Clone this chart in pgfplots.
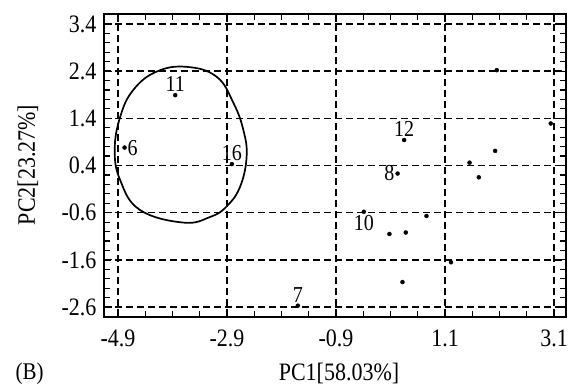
\documentclass[border=0pt]{standalone}
\usepackage{graphicx}
\usepackage{pgfplots}
\usepackage{pgfplotstable}
\pgfplotsset{compat=1.18}
\usepackage{fontspec}
\setmainfont{Liberation Serif}

% text in this figure is set slightly condensed (taller than wide)
\newcommand\tall[1]{\scalebox{1}[1.14]{#1}}

% Labelled samples, grouped by where the sample number sits
\pgfplotstableread{
x      y      lab
-3.85  1.89   11
-2.81  0.43   16
0.35   0.94   12
-1.60  -2.57  7
}\lababove
\pgfplotstableread{
x      y      lab
-4.78  0.78   6
}\labright
\pgfplotstableread{
x      y      lab
0.23   0.23   8
}\lableft
\pgfplotstableread{
x      y      lab
-0.39  -0.58  10
}\labbelow

% Remaining samples
\pgfplotstableread{
x      y
2.05   2.42
3.04   1.29
2.02   0.71
1.55   0.46
1.72   0.15
0.08   -1.05
0.38   -1.02
0.76   -0.67
1.21   -1.65
0.32   -2.07
}\others

\pgfplotsset{
  pcsample/.style={only marks, mark=*, mark size=2pt, black},
  pcnumbered/.style={pcsample, point meta=explicit symbolic,
    nodes near coords={\tall{\pgfplotspointmeta}},
    every node near coord/.append style={anchor=#1,
      font=\fontsize{20}{22}\selectfont, inner sep=3pt, text=black}},
}

\begin{document}
\begin{tikzpicture}
\useasboundingbox (-104pt,-67pt) rectangle (469pt,317pt);
\begin{axis}[
  at={(0pt,0pt)}, anchor=south west,
  scale only axis, width=462pt, height=303pt,
  xmin=-5.157, xmax=3.32, ymin=-2.81, ymax=3.61,
  xtick={-4.9,-2.9,-0.9,1.1,3.1},
  xticklabels={\tall{-4.9},\tall{-2.9},\tall{-0.9},\tall{1.1},\tall{3.1}},
  ytick={-2.6,-1.6,-0.6,0.4,1.4,2.4,3.4},
  yticklabels={\tall{-2.6},\tall{-1.6},\tall{-0.6},\tall{0.4},\tall{1.4},\tall{2.4},\tall{3.4}},
  minor xtick={-4.4,-3.9,-3.4,-2.4,-1.9,-1.4,-0.4,0.1,0.6,1.6,2.1,2.6},
  minor ytick={-2.4,-2.2,-2.0,-1.8,-1.4,-1.2,-1.0,-0.8,-0.4,-0.2,0.0,0.2,
               0.6,0.8,1.0,1.2,1.6,1.8,2.0,2.2,2.6,2.8,3.0,3.2},
  tick align=inside,
  major tick length=8pt, minor tick length=6pt,
  tick style={black, line width=1.2pt, solid},
  axis line style={line width=2pt},
  xmajorgrids, ymajorgrids,
  major grid style={black, line width=1.3pt, dash pattern=on 7pt off 4pt},
  ticklabel style={font=\fontsize{22}{24}\selectfont},
  xticklabel style={yshift=-9pt},
  yticklabel style={xshift=-4pt},
]
% cluster outline
\addplot[black, line width=1.7pt, smooth cycle, tension=0.7] coordinates {
  (-3.64,2.49) (-3.09,2.28) (-2.78,1.72) (-2.60,1.15) (-2.54,0.59)
  (-2.66,-0.05) (-2.91,-0.47) (-3.21,-0.69) (-3.70,-0.81) (-4.50,-0.54)
  (-4.86,0.09) (-4.96,0.73) (-4.86,1.43) (-4.62,2.00) (-4.19,2.39)
};
\addplot[pcsample] table {\others};
\addplot[pcnumbered=south] table[meta=lab] {\lababove};
\addplot[pcnumbered=west]  table[meta=lab] {\labright};
\addplot[pcnumbered=east]  table[meta=lab] {\lableft};
\addplot[pcnumbered=north] table[meta=lab] {\labbelow};
\end{axis}
\node[anchor=base, font=\fontsize{22}{24}\selectfont] at (235pt,-63pt) {\tall{PC1[58.03\%]}};
\node[anchor=base west, font=\fontsize{21}{23}\selectfont] at (-92pt,-62pt) {\tall{(B)}};
\node[anchor=base, rotate=90, font=\fontsize{22}{24}\selectfont] at (-69pt,152pt) {\tall{PC2[23.27\%]}};
\end{tikzpicture}
\end{document}
